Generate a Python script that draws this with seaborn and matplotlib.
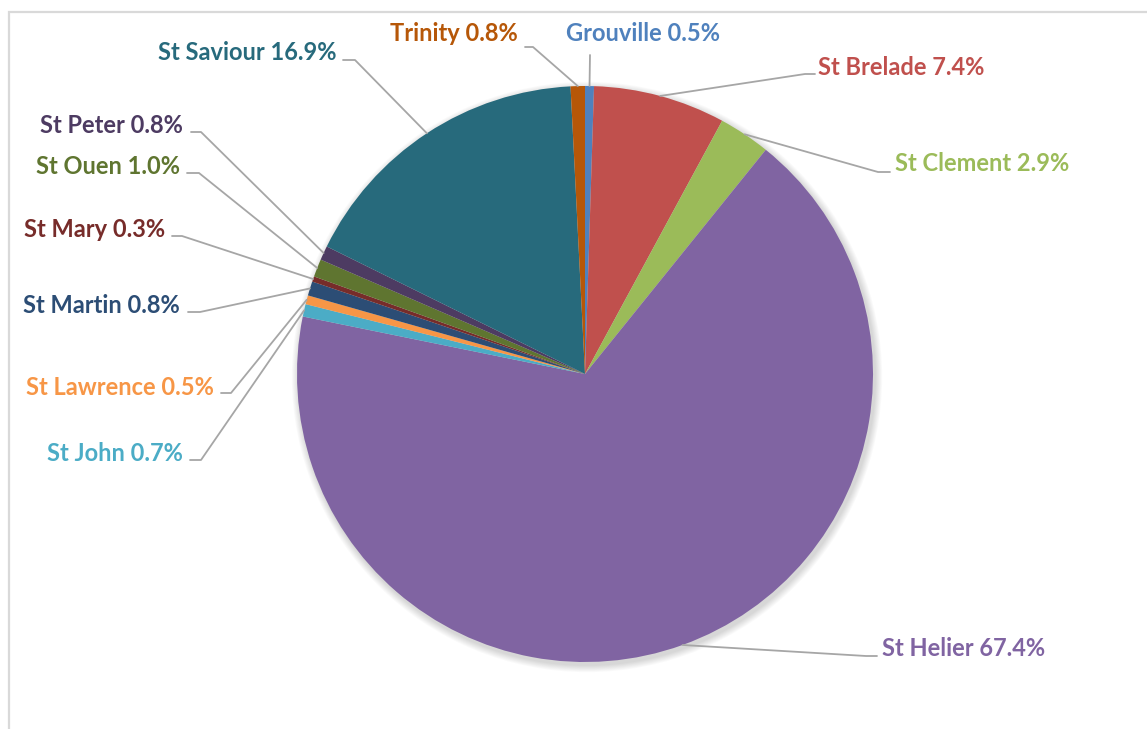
import numpy as np
import matplotlib
matplotlib.use("Agg")
import matplotlib.pyplot as plt
import seaborn as sns

# ---- data ----
parishes = ["Grouville", "St Brelade", "St Clement", "St Helier", "St John",
            "St Lawrence", "St Martin", "St Mary", "St Ouen", "St Peter",
            "St Saviour", "Trinity"]
shares = [0.5, 7.4, 2.9, 67.4, 0.7, 0.5, 0.8, 0.3, 1.0, 0.8, 16.9, 0.8]
colors = ["#4F81BD", "#C0504D", "#9BBB59", "#8064A2", "#4BACC6", "#F79646",
          "#2C4D75", "#772C2A", "#5F7530", "#4D3B62", "#276A7C", "#B65708"]

# ---- layout (pixel coordinates, y from top) ----
W, H = 1147, 729
cx, cy, R = 585, 374, 288
# text anchor x, text y, horizontal alignment, elbow point, line end point
label_layout = {
    "Grouville":   (643, 33, "center", None, (590, 55)),
    "St Brelade":  (818, 67, "left", (805, 74), (815, 74)),
    "St Clement":  (895, 163, "left", (878, 172), (890, 172)),
    "St Helier":   (882, 648, "left", (866, 656), (877, 656)),
    "St John":     (183, 453, "right", (201, 460), (190, 460)),
    "St Lawrence": (214, 387, "right", (231, 393), (221, 393)),
    "St Martin":   (180, 305, "right", (200, 312), (188, 312)),
    "St Mary":     (165, 229, "right", (182, 236), (172, 236)),
    "St Ouen":     (180, 166, "right", (199, 173), (187, 173)),
    "St Peter":    (183, 125, "right", (201, 132), (191, 132)),
    "St Saviour":  (337, 52, "right", (355, 60), (343, 60)),
    "Trinity":     (518, 33, "right", (533, 47), (525, 47)),
}

sns.set_theme(style="white")
plt.rcParams["font.family"] = ["Lato", "DejaVu Sans"]

fig = plt.figure(figsize=(W / 100, H / 100), dpi=100)
ax = fig.add_axes([0, 0, 1, 1])

def Y(y):
    return H - y

# soft shadow
for k in range(8, 0, -1):
    ax.add_patch(plt.Circle((cx + 2, Y(cy) - 3), R + k * 0.9,
                            color="#000000", alpha=0.018, lw=0, zorder=1))

wedges, _ = ax.pie(shares, colors=colors, startangle=90, counterclock=False,
                   center=(cx, Y(cy)), radius=R, frame=True,
                   wedgeprops=dict(linewidth=0, zorder=2))
ax.set_xlim(0, W)
ax.set_ylim(0, H)
ax.set_axis_off()

# frame border
ax.plot([9, 9, W], [Y(H), Y(12), Y(12)], color="#D9D9D9", lw=1.6,
        solid_joinstyle="miter", zorder=0)

for w, name, val, col in zip(wedges, parishes, shares, colors):
    tx, ty, ha, elbow, end = label_layout[name]
    mid = np.deg2rad((w.theta1 + w.theta2) / 2)
    px, py = cx + R * np.cos(mid), Y(cy) + R * np.sin(mid)
    xs = [px]
    ys = [py]
    if elbow is not None:
        xs.append(elbow[0]); ys.append(Y(elbow[1]))
    xs.append(end[0]); ys.append(Y(end[1]))
    ax.plot(xs, ys, color="#A6A6A6", lw=1.3, zorder=3)
    ax.text(tx, Y(ty), f"{name} {val:.1f}%", ha=ha, va="center",
            color=col, fontsize=17, fontweight="bold", zorder=4)

fig.savefig("out.png", dpi=100)
